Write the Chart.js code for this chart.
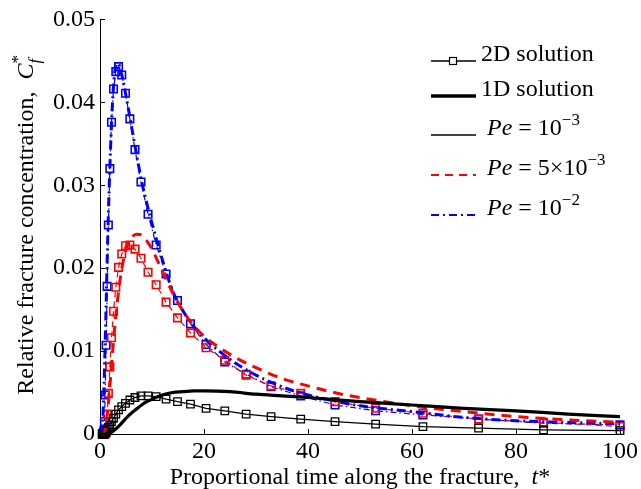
<!DOCTYPE html>
<html>
<head>
<meta charset="utf-8">
<script src="https://cdn.jsdelivr.net/npm/chart.js@4.4.0/dist/chart.umd.min.js"></script>
<style>
  html, body { margin: 0; padding: 0; background: #fff; }
</style>
</head>
<body>
<canvas id="chart" width="641" height="489"></canvas>
<script>
// ---- data ----
const xTickLabels = ["0", "20", "40", "60", "80", "100"];
const yTickLabels = ["0", "0.01", "0.02", "0.03", "0.04", "0.05"];

// 2D solution: output times (shared by the three Pe cases)
const t2D = [0.45, 0.53, 0.62, 0.72, 0.85, 1.0, 1.17, 1.37, 1.61, 1.89, 2.21, 2.60, 3.04, 3.56, 4.18, 4.90, 5.74, 6.73, 7.88, 9.24,
             10.8, 12.7, 14.9, 17.4, 20.4, 24.0, 28.1, 32.9, 38.6, 45.2, 53.0, 62.1, 72.8, 85.3, 100];
const c2D_pe1 = [0, 0, 0, 0, 0, 0.0001, 0.0002, 0.0004, 0.0008, 0.0011, 0.0015, 0.0019, 0.0024, 0.0029, 0.0033, 0.0037, 0.0041, 0.0044, 0.0046, 0.0046,
                 0.0045, 0.0042, 0.0039, 0.0036, 0.0031, 0.0028, 0.0024, 0.0021, 0.0018, 0.0015, 0.0012, 0.0009, 0.0007, 0.0005, 0.0004];
const c2D_pe5 = [0, 0, 0, 0, 0, 0, 0.0002, 0.0024, 0.0049, 0.0081, 0.0116, 0.0148, 0.0177, 0.0201, 0.0217, 0.0227, 0.0228, 0.0223, 0.0212, 0.0195,
                 0.0180, 0.0159, 0.0140, 0.0122, 0.0104, 0.0089, 0.0071, 0.0058, 0.0049, 0.0039, 0.0031, 0.0025, 0.0018, 0.0014, 0.0009];
const c2D_pe10 = [0, 0, 0.0001, 0.0004, 0.0015, 0.0047, 0.0107, 0.0178, 0.0252, 0.0320, 0.0376, 0.0416, 0.0437, 0.0443, 0.0433, 0.0411, 0.0380, 0.0343, 0.0304, 0.0265,
                  0.0228, 0.0193, 0.0161, 0.0133, 0.0108, 0.0087, 0.0072, 0.0057, 0.0046, 0.0035, 0.0028, 0.0023, 0.0018, 0.0013, 0.0011];

// 1D solution
const t1D_pe1 = [0, 1, 2, 3, 4, 5, 6, 7, 8, 9, 10, 12, 14, 16, 18, 20, 25, 30, 35, 40, 50, 60, 70, 80, 90, 100];
const c1D_pe1 = [0, 0, 0.0001, 0.0006, 0.0012, 0.0019, 0.0025, 0.0030, 0.0035, 0.0039, 0.0042, 0.0047, 0.0050, 0.0051, 0.0052, 0.0052,
                 0.0051, 0.0048, 0.0046, 0.0044, 0.0039, 0.0035, 0.0031, 0.0028, 0.0024, 0.0021];
const t1D_pe5 = [0, 0.5, 1, 1.5, 2, 2.5, 3, 4, 5, 6, 7, 8, 9, 10, 12, 14, 16, 18, 20, 25, 30, 35, 40, 45, 50, 60, 70, 80, 90, 100];
const c1D_pe5 = [0, 0, 0.0005, 0.0030, 0.0065, 0.0105, 0.0140, 0.0192, 0.0222, 0.0236, 0.0241, 0.0240, 0.0233, 0.0223, 0.0196, 0.0170,
                 0.0148, 0.0131, 0.0118, 0.0096, 0.0080, 0.0067, 0.0058, 0.0050, 0.0044, 0.0034, 0.0027, 0.0021, 0.0017, 0.0014];
const t1D_pe10 = [0, 0.5, 1, 1.5, 2, 2.5, 3, 3.5, 4, 5, 6, 7, 8, 9, 10, 12, 14, 16, 18, 20, 25, 30, 35, 40, 45, 50, 60, 70, 80, 90, 100];
const c1D_pe10 = [0, 0.0015, 0.0110, 0.0240, 0.0340, 0.0410, 0.0443, 0.0447, 0.0438, 0.0408, 0.0373, 0.0338, 0.0305, 0.0278, 0.0254, 0.0210,
                  0.0172, 0.0148, 0.0130, 0.0116, 0.0090, 0.0071, 0.0057, 0.0047, 0.0040, 0.0034, 0.0027, 0.0020, 0.0016, 0.0014, 0.0012];

const FONT = "'Liberation Serif', 'Times New Roman', serif";
const FS = 24;

function pts(xs, ys) {
    return xs.map((x, i) => ({ x: x, y: ys[i] }));
}

// legend rows: text runs + line sample style
const legendRows = [
    { runs: [{ t: "2D solution" }], color: "#000", width: 1.3, dash: [], marker: true },
    { runs: [{ t: "1D solution" }], color: "#000", width: 3.5, dash: [] },
    { runs: [{ t: " " }, { t: "Pe", it: true }, { t: " = 10" }, { t: "\u2212" + "3", sup: true }], color: "#000", width: 1.5, dash: [] },
    { runs: [{ t: " " }, { t: "Pe", it: true }, { t: " = 5\u00d710" }, { t: "\u2212" + "3", sup: true }], color: "#ff0000", width: 2, dash: [8, 6] },
    { runs: [{ t: " " }, { t: "Pe", it: true }, { t: " = 10" }, { t: "\u2212" + "2", sup: true }], color: "#0000ff", width: 2, dash: [8, 4, 2, 4] }
];

// draw a row of mixed italic / superscript / subscript text
function drawRuns(ctx, runs, x, y, size, align) {
    const fontFor = (r) => (r.it ? "italic " : "") + Math.round((r.sup || r.sub) ? size * 0.7 : size) + "px " + FONT;
    let total = 0;
    runs.forEach(r => {
        ctx.font = fontFor(r);
        if (!r.stack) total += ctx.measureText(r.t).width;
    });
    let cx = align === "center" ? x - total / 2 : x;
    ctx.textBaseline = "alphabetic";
    ctx.textAlign = "left";
    runs.forEach(r => {
        ctx.font = fontFor(r);
        let dy = 0;
        if (r.sup) dy = -size * 0.42;
        if (r.sub) dy = size * 0.28;
        ctx.fillText(r.t, cx, y + dy);
        if (!r.stack) cx += ctx.measureText(r.t).width;
    });
}

const decorPlugin = {
    id: "decor",
    afterDraw(chart) {
        const ctx = chart.ctx;
        const xs = chart.scales.x, ys = chart.scales.y;
        const area = chart.chartArea;
        ctx.save();
        // inward tick marks
        ctx.strokeStyle = "#000";
        ctx.lineWidth = 1;
        ctx.beginPath();
        xs.ticks.forEach(tk => {
            const px = Math.round(xs.getPixelForValue(tk.value)) + 0.5;
            ctx.moveTo(px, area.bottom);
            ctx.lineTo(px, area.bottom - 5);
        });
        ys.ticks.forEach(tk => {
            const py = Math.round(ys.getPixelForValue(tk.value)) + 0.5;
            ctx.moveTo(area.left, py);
            ctx.lineTo(area.left + 5, py);
        });
        ctx.stroke();

        ctx.fillStyle = "#000";
        // x title
        drawRuns(ctx, [{ t: "Proportional time along the fracture,  " }, { t: "t", it: true }, { t: "*" }],
            (area.left + area.right) / 2, 484, FS, "center");
        // y title (rotated)
        ctx.save();
        ctx.translate(33, (area.top + area.bottom) / 2);
        ctx.rotate(-Math.PI / 2);
        drawRuns(ctx, [{ t: "Relative fracture concentration,  " }, { t: "C", it: true },
            { t: "*", sup: true, stack: true }, { t: "f", it: true, sub: true }], 0, 0, FS, "center");
        ctx.restore();

        // legend
        const lx0 = 431, lx1 = 476, tx = 481;
        const rowY = [53, 88, 127, 167, 207];
        legendRows.forEach((row, i) => {
            const ly = rowY[i] + 8;
            ctx.save();
            ctx.strokeStyle = row.color;
            ctx.lineWidth = row.width;
            ctx.setLineDash(row.dash);
            ctx.beginPath();
            ctx.moveTo(lx0, ly);
            ctx.lineTo(lx1, ly);
            ctx.stroke();
            ctx.setLineDash([]);
            if (row.marker) {
                ctx.fillStyle = "#fff";
                ctx.lineWidth = 1.2;
                ctx.fillRect(449.5, ly - 3.5, 7, 7);
                ctx.strokeRect(449.5, ly - 3.5, 7, 7);
            }
            ctx.restore();
            drawRuns(ctx, row.runs, tx, rowY[i] + 8, FS, "left");
        });
        ctx.restore();
    }
};

const ctx = document.getElementById("chart").getContext("2d");
const chart = new Chart(ctx, {
    type: "line",
    data: {
        datasets: [
            {
                label: "1D Pe=1e-3", data: pts(t1D_pe1, c1D_pe1),
                borderColor: "#000", borderWidth: 3.2, pointRadius: 0, cubicInterpolationMode: "monotone", fill: false
            },
            {
                label: "1D Pe=5e-3", data: pts(t1D_pe5, c1D_pe5),
                borderColor: "#ff0000", borderWidth: 3, borderDash: [10, 7], pointRadius: 0, cubicInterpolationMode: "monotone", fill: false
            },
            {
                label: "1D Pe=1e-2", data: pts(t1D_pe10, c1D_pe10),
                borderColor: "#0000ff", borderWidth: 3, borderDash: [9, 4, 2, 4], pointRadius: 0, cubicInterpolationMode: "monotone", fill: false
            },
            {
                label: "2D Pe=1e-3", data: pts(t2D, c2D_pe1),
                borderColor: "#000", borderWidth: 1.3, pointStyle: "rect", pointRadius: 5.3, pointBorderWidth: 1.3,
                pointBorderColor: "#000", pointBackgroundColor: "rgba(255,255,255,0)", tension: 0, fill: false
            },
            {
                label: "2D Pe=5e-3", data: pts(t2D, c2D_pe5),
                borderColor: "#ff0000", borderWidth: 1.2, borderDash: [6, 4], pointStyle: "rect", pointRadius: 5.3, pointBorderWidth: 1.6,
                pointBorderColor: "#ff0000", pointBackgroundColor: "rgba(255,255,255,0)", tension: 0, fill: false
            },
            {
                label: "2D Pe=1e-2", data: pts(t2D, c2D_pe10),
                borderColor: "#0000ff", borderWidth: 1.2, borderDash: [6, 3, 1.5, 3], pointStyle: "rect", pointRadius: 5.3, pointBorderWidth: 1.6,
                pointBorderColor: "#0000ff", pointBackgroundColor: "rgba(255,255,255,0)", tension: 0, fill: false
            }
        ]
    },
    options: {
        responsive: false,
        animation: false,
        clip: false,
        layout: { padding: { left: 0, right: 16, top: 19, bottom: 0 } },
        plugins: { legend: { display: false }, tooltip: { enabled: false } },
        scales: {
            x: {
                type: "linear", min: 0, max: 100,
                ticks: {
                    stepSize: 20, color: "#000", padding: 3, maxRotation: 0,
                    font: { family: FONT, size: FS },
                    callback: (v, i) => xTickLabels[i]
                },
                grid: { display: false, drawTicks: false },
                border: { display: true, color: "#000", width: 1 },
                afterFit: (s) => { s.height = 55; }
            },
            y: {
                type: "linear", min: 0, max: 0.05,
                ticks: {
                    stepSize: 0.01, color: "#000", padding: 5,
                    font: { family: FONT, size: FS },
                    callback: (v, i) => yTickLabels[i]
                },
                grid: { display: false, drawTicks: false },
                border: { display: true, color: "#000", width: 1 },
                afterFit: (s) => { s.width = 100; }
            }
        }
    },
    plugins: [decorPlugin]
});
</script>
</body>
</html>
